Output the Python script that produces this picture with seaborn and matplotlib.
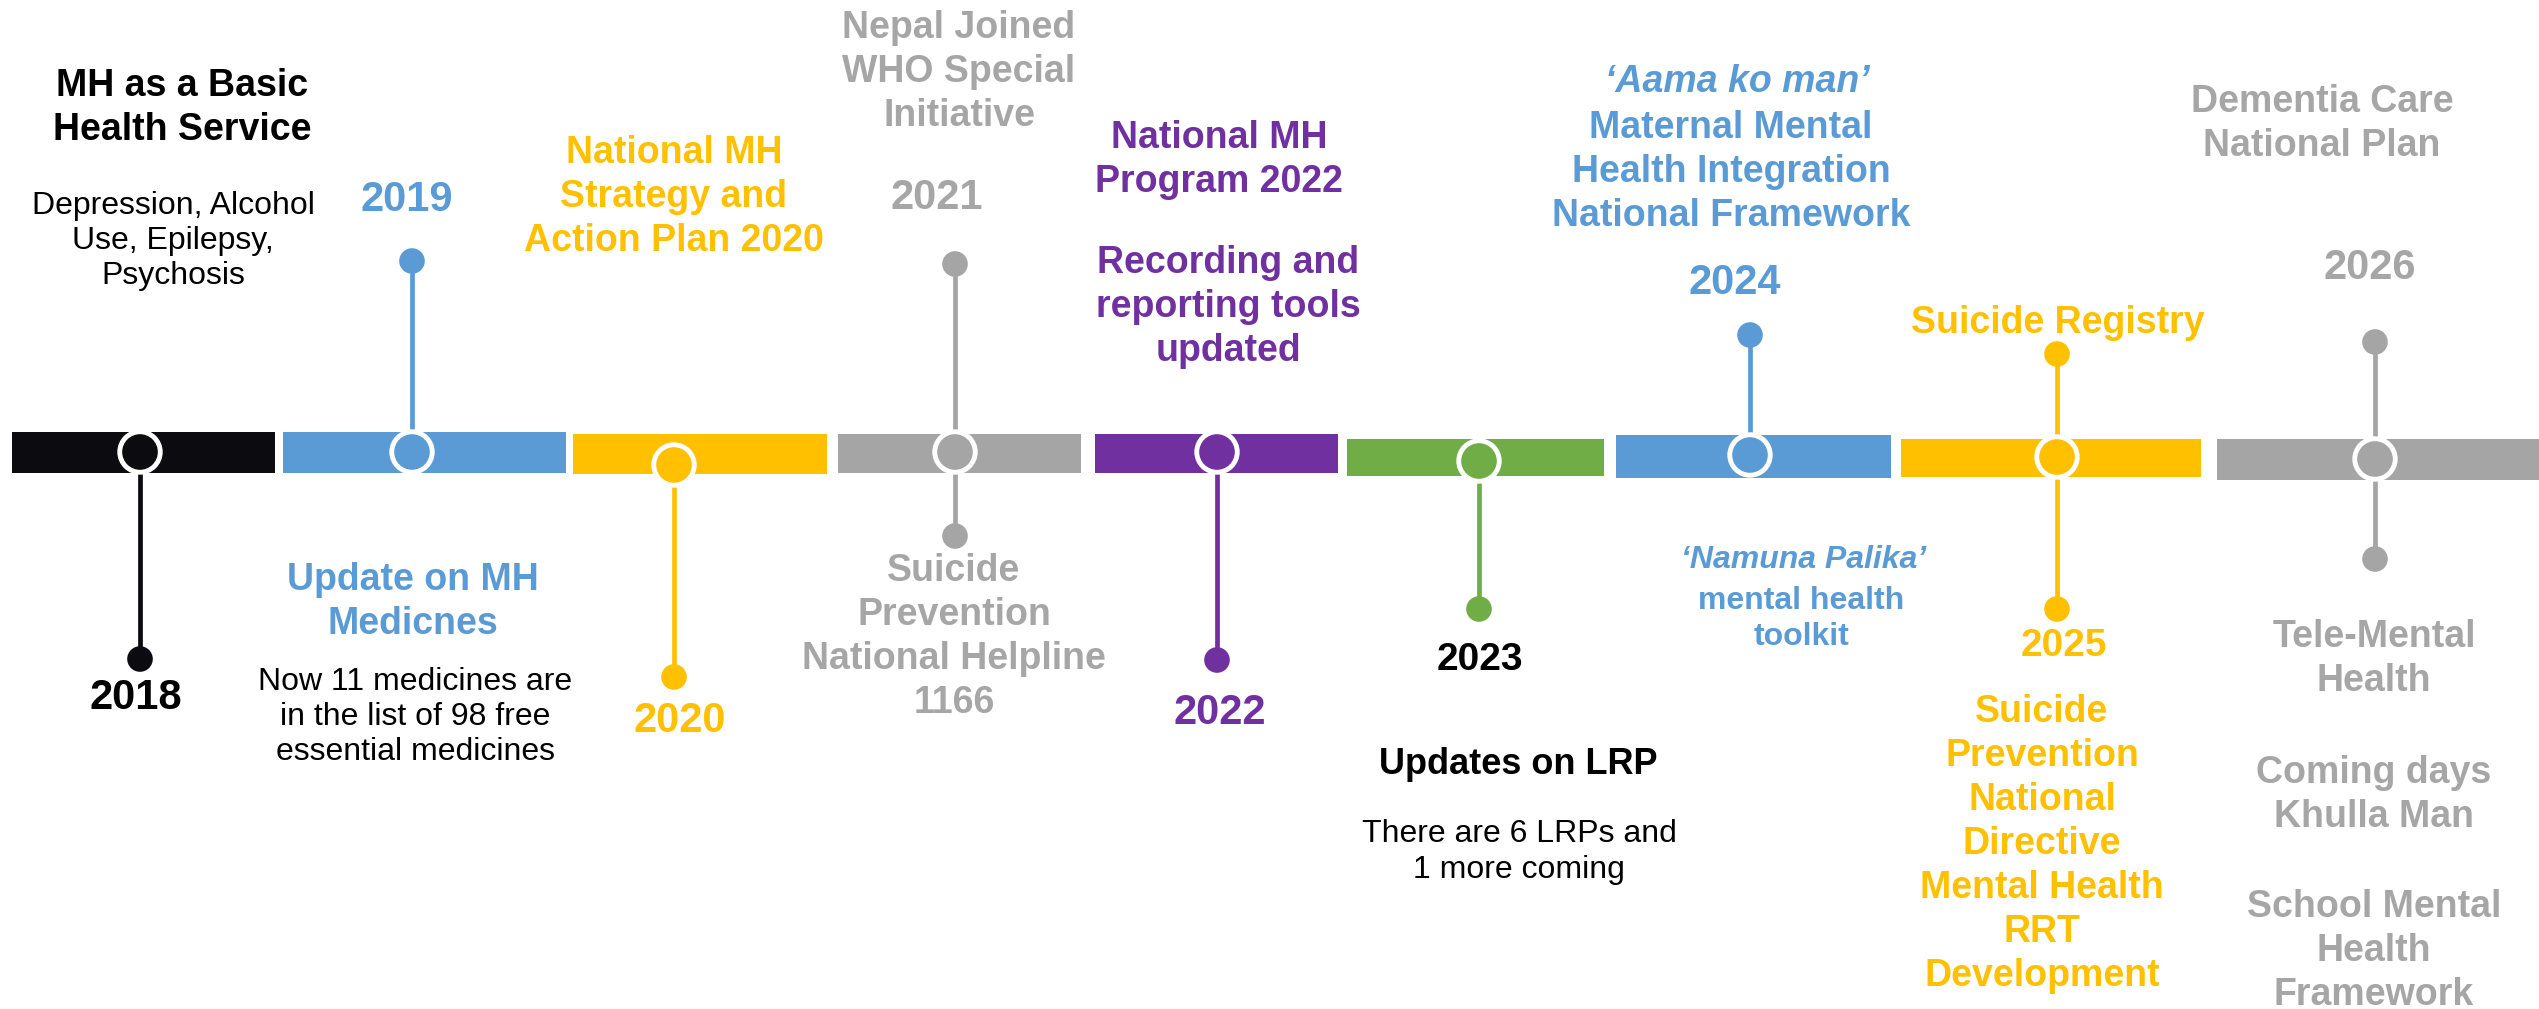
import matplotlib
matplotlib.use("Agg")
import matplotlib.pyplot as plt
import seaborn as sns
import pandas as pd

# ---------------- data ----------------
years = ["2018", "2019", "2020", "2021", "2022", "2023", "2024", "2025", "2026"]
colors = ["#0B0B10", "#5B9BD5", "#FFC000", "#A5A5A5", "#7030A0",
          "#70AD47", "#5B9BD5", "#FFC000", "#A5A5A5"]
# timeline segments (pixel space of the canvas)
seg_start = [12, 283, 573, 838, 1095, 1347, 1616, 1901, 2217]
seg_end = [275, 566, 827, 1081, 1338, 1604, 1891, 2201, 2539]
seg_top = [432, 432, 434, 434, 434, 439, 435, 439, 439]
seg_bottom = [473, 473, 474, 473, 473, 476, 478, 477, 480]
# milestone marker positions
mark_x = [140, 412, 674, 955, 1217, 1479, 1750, 2057, 2375]
mark_y = [452, 452, 465, 452, 452, 461, 455, 457, 459]
# stem end points (None = no stem on that side)
stem_up = [None, 261, None, 264, None, None, 335, 354, 342]
stem_down = [659, None, 677, 536, 660, 609, None, 609, 559]

GRAY_T = "#A6A6A6"
BLUE = "#5B9BD5"
YEL = "#FFC000"
PUR = "#7030A0"
BLK = "#000000"

HB = 27   # bold headings
YR = 30   # year labels
RG = 23   # regular descriptions

# (text, x, y, colour, size, weight, style)
labels = [
    ("MH as a Basic\nHealth Service", 182, 108, BLK, HB, "bold", "normal"),
    ("Depression, Alcohol\nUse, Epilepsy,\nPsychosis", 173, 241, BLK, RG, "normal", "normal"),
    ("2019", 407, 200, BLUE, YR, "bold", "normal"),
    ("National MH\nStrategy and\nAction Plan 2020", 674, 197, YEL, HB, "bold", "normal"),
    ("Nepal Joined\nWHO Special\nInitiative", 959, 72, GRAY_T, HB, "bold", "normal"),
    ("2021", 937, 198, GRAY_T, YR, "bold", "normal"),
    ("National MH\nProgram 2022", 1219, 160, PUR, HB, "bold", "normal"),
    ("Recording and\nreporting tools\nupdated", 1228, 307, PUR, HB, "bold", "normal"),
    ("\u2018Aama ko man\u2019", 1737, 82, BLUE, HB, "bold", "italic"),
    ("Maternal Mental\nHealth Integration\nNational Framework", 1731, 172, BLUE, HB, "bold", "normal"),
    ("2024", 1735, 283, BLUE, YR, "bold", "normal"),
    ("Suicide Registry", 2058, 323, YEL, HB, "bold", "normal"),
    ("Dementia Care\nNational Plan", 2322, 124, GRAY_T, HB, "bold", "normal"),
    ("2026", 2370, 268, GRAY_T, YR, "bold", "normal"),
    ("2018", 136, 698, BLK, YR, "bold", "normal"),
    ("Update on MH\nMedicnes", 413, 602, BLUE, HB, "bold", "normal"),
    ("Now 11 medicines are\nin the list of 98 free\nessential medicines", 415, 717, BLK, RG, "normal", "normal"),
    ("2020", 680, 721, YEL, YR, "bold", "normal"),
    ("Suicide\nPrevention\nNational Helpline\n1166", 954, 637, GRAY_T, HB, "bold", "normal"),
    ("2022", 1220, 713, PUR, YR, "bold", "normal"),
    ("2023", 1480, 660, BLK, 28, "bold", "normal"),
    ("Updates on LRP", 1518, 765, BLK, 26, "bold", "normal"),
    ("There are 6 LRPs and\n1 more coming", 1519, 852, BLK, RG, "normal", "normal"),
    ("\u2018Namuna Palika\u2019", 1804, 560, BLUE, 23, "bold", "italic"),
    ("mental health\ntoolkit", 1801, 619, BLUE, 23, "bold", "normal"),
    ("2025", 2064, 646, YEL, 28, "bold", "normal"),
    ("Suicide\nPrevention\nNational\nDirective\nMental Health\nRRT\nDevelopment", 2042, 844, YEL, HB, "bold", "normal"),
    ("Tele-Mental\nHealth", 2374, 659, GRAY_T, HB, "bold", "normal"),
    ("Coming days\nKhulla Man", 2374, 795, GRAY_T, HB, "bold", "normal"),
    ("School Mental\nHealth\nFramework", 2374, 951, GRAY_T, HB, "bold", "normal"),
]

# ---------------- drawing ----------------
sns.set_theme(style="white")
plt.rcParams["font.family"] = ["Liberation Sans", "DejaVu Sans"]

W, H = 2539, 1009
fig = plt.figure(figsize=(W / 100, H / 100), dpi=100)
ax = fig.add_axes([0, 0, 1, 1])
ax.set_xlim(0, W)
ax.set_ylim(H, 0)
ax.axis("off")

# segments
for x0, x1, y0, y1, c in zip(seg_start, seg_end, seg_top, seg_bottom, colors):
    ax.fill_between([x0, x1], [y0, y0], [y1, y1], color=c, lw=0, zorder=1)

# stems
for x, y, up, dn, c in zip(mark_x, mark_y, stem_up, stem_down, colors):
    if up is not None:
        ax.plot([x, x], [up, y], color=c, lw=3.4, zorder=2, solid_capstyle="butt")
    if dn is not None:
        ax.plot([x, x], [y, dn], color=c, lw=3.4, zorder=2, solid_capstyle="butt")

# end dots
dots = []
for x, up, dn, c in zip(mark_x, stem_up, stem_down, colors):
    if up is not None:
        dots.append({"x": x, "y": up, "c": c})
    if dn is not None:
        dots.append({"x": x, "y": dn, "c": c})
dots = pd.DataFrame(dots)
sns.scatterplot(data=dots, x="x", y="y", hue="c", palette={c: c for c in dots["c"].unique()},
                s=340, linewidth=0, legend=False, ax=ax, zorder=3)

# ring markers
marks = pd.DataFrame({"x": mark_x, "y": mark_y, "c": colors})
sns.scatterplot(data=marks, x="x", y="y", hue="c", palette={c: c for c in marks["c"].unique()},
                s=850, edgecolor="white", linewidth=3.5, legend=False, ax=ax, zorder=4)

ax.set_xlim(0, W)
ax.set_ylim(H, 0)
ax.set_xlabel("")
ax.set_ylabel("")

for t, x, y, c, sz, wt, st in labels:
    ls = 1.28 if wt == "bold" else 1.23
    ax.text(x, y, t, color=c, fontsize=sz, fontweight=wt, fontstyle=st,
            ha="center", va="center", linespacing=ls, zorder=5)

fig.savefig("out.png", dpi=100, facecolor="white")
